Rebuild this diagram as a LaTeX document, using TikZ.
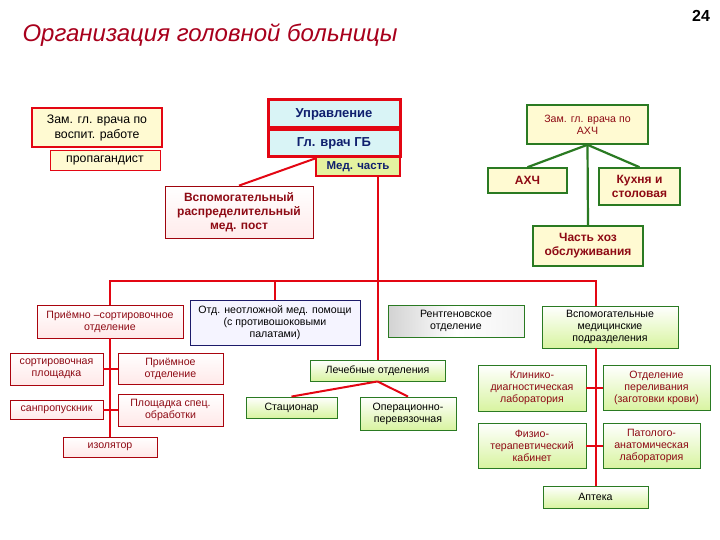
\documentclass[tikz,border=0pt]{standalone}
\usepackage{fontspec}
\setmainfont{Liberation Sans}
\usepackage{xcolor}
\usepackage{tikz}
\usetikzlibrary{calc,shadings}

\definecolor{redline}{HTML}{E30613}
\definecolor{darkred}{HTML}{8E0A14}
\definecolor{titlered}{HTML}{A8001C}
\definecolor{greenline}{HTML}{2A7A22}
\definecolor{cream}{HTML}{FFFAD2}
\definecolor{lightcyan}{HTML}{D9F4F6}
\definecolor{medfill}{HTML}{E4F2A0}
\definecolor{navy}{HTML}{1C1A6A}
\definecolor{lavender}{HTML}{F5F4FF}
\definecolor{lightgreen}{HTML}{D8F4A0}
\definecolor{textblue}{HTML}{0F1F6E}

\tikzset{
    boxtext/.style={font=\fontsize{10.6}{12}\selectfont},
    boldtext/.style={font=\fontsize{12}{14}\selectfont\bfseries},
    zambox/.style={draw=redline,line width=1.6pt,fill=cream,text=black,align=center,inner sep=1pt,font=\fontsize{12.3}{15}\selectfont},
    propbox/.style={draw=redline,line width=0.8pt,fill=cream,text=black,align=center,inner sep=1pt,font=\fontsize{12.3}{15}\selectfont},
    topbox/.style={draw=redline,line width=3pt,fill=lightcyan,text=textblue,align=center,inner sep=1pt,font=\fontsize{13}{15}\selectfont\bfseries},
    medbox/.style={draw=redline,line width=2.4pt,fill=medfill,text=textblue,align=center,inner sep=1pt,font=\fontsize{11.5}{13}\selectfont\bfseries},
    postbox/.style={draw=redline!70!black,line width=0.8pt,top color=white,bottom color=red!8,text=darkred,align=center,inner sep=1pt,boldtext},
    lowred/.style={draw=redline!75!black,line width=0.8pt,top color=white,bottom color=red!9,text=darkred,align=center,inner sep=1pt,boxtext},
    navybox/.style={draw=navy,line width=0.9pt,fill=lavender,text=black,align=center,inner sep=1pt,boxtext},
    xraybox/.style={draw=greenline,line width=0.9pt,left color=gray!35,right color=gray!10,middle color=white,text=black,align=center,inner sep=1pt,boxtext},
    lowgreen/.style={draw=greenline,line width=0.9pt,top color=white,bottom color=lightgreen,text=black,align=center,inner sep=1pt,boxtext},
    labgreen/.style={lowgreen,text=darkred},
    ahchbox/.style={draw=greenline,line width=1.6pt,fill=cream,text=darkred,align=center,inner sep=1pt,boxtext},
    ahchbold/.style={ahchbox,boldtext},
    redlink/.style={draw=redline,line width=2pt},
    greenlink/.style={draw=greenline,line width=2.2pt}
}

\begin{document}
\begin{tikzpicture}[x=1pt,y=-1pt]
    \useasboundingbox (0,0) rectangle (720,540);

    % Title
    \node[anchor=west,text=titlered,font=\fontsize{24}{28}\selectfont\itshape] (title) at (19,35) {Организация головной больницы};
    \node[font=\fontsize{16}{18}\selectfont\bfseries] (pagenum) at (701,16) {24};

    % Upper left
    \node[zambox,minimum width=130,minimum height=39] (zamvosp) at (97,127.5) {Зам. гл. врача по\\воспит. работе};
    \node[propbox,minimum width=110,minimum height=20] (prop) at (105,160) {пропагандист};

    % Management
    \node[topbox,minimum width=132,minimum height=28] (upr) at (334,114) {Управление};
    \node[topbox,minimum width=132,minimum height=27] (glvrach) at (334,143.5) {Гл. врач ГБ};
    \node[medbox,minimum width=84,minimum height=19] (medch) at (358,166.5) {Мед. часть};
    \node[postbox,minimum width=148,minimum height=52] (post) at (239,212) {Вспомогательный\\распределительный\\мед. пост};

    % AHCh group
    \node[ahchbox,minimum width=121,minimum height=39] (zamahch) at (587.5,124.5) {Зам. гл. врача по\\АХЧ};
    \node[ahchbold,minimum width=79,minimum height=25] (ahch) at (527.5,180.5) {АХЧ};
    \node[ahchbold,minimum width=81,minimum height=37] (kuhnya) at (639.5,186.5) {Кухня и\\столовая};
    \node[ahchbold,minimum width=110,minimum height=40] (hozch) at (588,246) {Часть хоз\\обслуживания};

    % Departments
    \node[lowred,minimum width=146,minimum height=33] (priem) at (110,321.5) {Приёмно –сортировочное\\отделение};
    \node[navybox,minimum width=170,minimum height=45] (neotl) at (275,322.5) {Отд. неотложной мед. помощи\\(с противошоковыми\\палатами)};
    \node[xraybox,minimum width=136,minimum height=32] (rentg) at (456,321) {Рентгеновское\\отделение};
    \node[lowgreen,minimum width=136,minimum height=42] (vspmed) at (610,327) {Вспомогательные\\медицинские\\подразделения};

    % Reception subunits
    \node[lowred,minimum width=93,minimum height=32] (sortpl) at (56.5,369) {сортировочная\\площадка};
    \node[lowred,minimum width=105,minimum height=31] (priemotd) at (170.5,369) {Приёмное\\отделение};
    \node[lowred,minimum width=93,minimum height=19] (sanpr) at (56.5,410) {санпропускник};
    \node[lowred,minimum width=105,minimum height=32] (plosh) at (170.5,410) {Площадка спец.\\обработки};
    \node[lowred,minimum width=94,minimum height=20] (izol) at (110,447) {изолятор};

    % Treatment
    \node[lowgreen,minimum width=135,minimum height=21] (lech) at (377.5,370.5) {Лечебные отделения};
    \node[lowgreen,minimum width=91,minimum height=21] (stac) at (291.5,407.5) {Стационар};
    \node[lowgreen,minimum width=96,minimum height=33] (oper) at (408,413.5) {Операционно-\\перевязочная};

    % Auxiliary medical units
    \node[labgreen,minimum width=108,minimum height=46] (klin) at (532,388) {Клинико-\\диагностическая\\лаборатория};
    \node[labgreen,minimum width=107,minimum height=45] (pereliv) at (656.5,388) {Отделение\\переливания\\(заготовки крови)};
    \node[labgreen,minimum width=108,minimum height=45] (fizio) at (532,445.5) {Физио-\\терапевтический\\кабинет};
    \node[labgreen,minimum width=97,minimum height=45] (patan) at (651.5,445.5) {Патолого-\\анатомическая\\лаборатория};
    \node[lowgreen,minimum width=105,minimum height=22] (apteka) at (595.5,497) {Аптека};

    % Red links
    \coordinate (busL) at (110,281);
    \coordinate (busR) at (595.5,281);
    \draw[redlink] ($(glvrach.south west)!0.36!(glvrach.south east)$) -- (post.north);
    \draw[redlink] (lech.north |- medch.south) -- (lech.north);
    \draw[redlink] (priem.north) |- (busR) -- (busR |- vspmed.north);
    \draw[redlink] (neotl.north) -- (neotl.north |- busL);
    \draw[redlink] (priem.south) -- (izol.north);
    \draw[redlink] (sortpl.east) -- (priemotd.west);
    \draw[redlink] (sanpr.east) -- (plosh.west);
    \draw[redlink] (lech.south) -- (stac.north);
    \draw[redlink] (lech.south) -- (oper.north);
    \draw[redlink] (apteka.north) -- (apteka.north |- vspmed.south);
    \draw[redlink] (klin.east) -- (pereliv.west);
    \draw[redlink] (fizio.east) -- (patan.west);

    % Green links
    \draw[greenlink] (zamahch.south) -- (ahch.north);
    \draw[greenlink] (zamahch.south) -- (kuhnya.north);
    \draw[greenlink] (zamahch.south) -- (hozch.north);
\end{tikzpicture}
\end{document}
